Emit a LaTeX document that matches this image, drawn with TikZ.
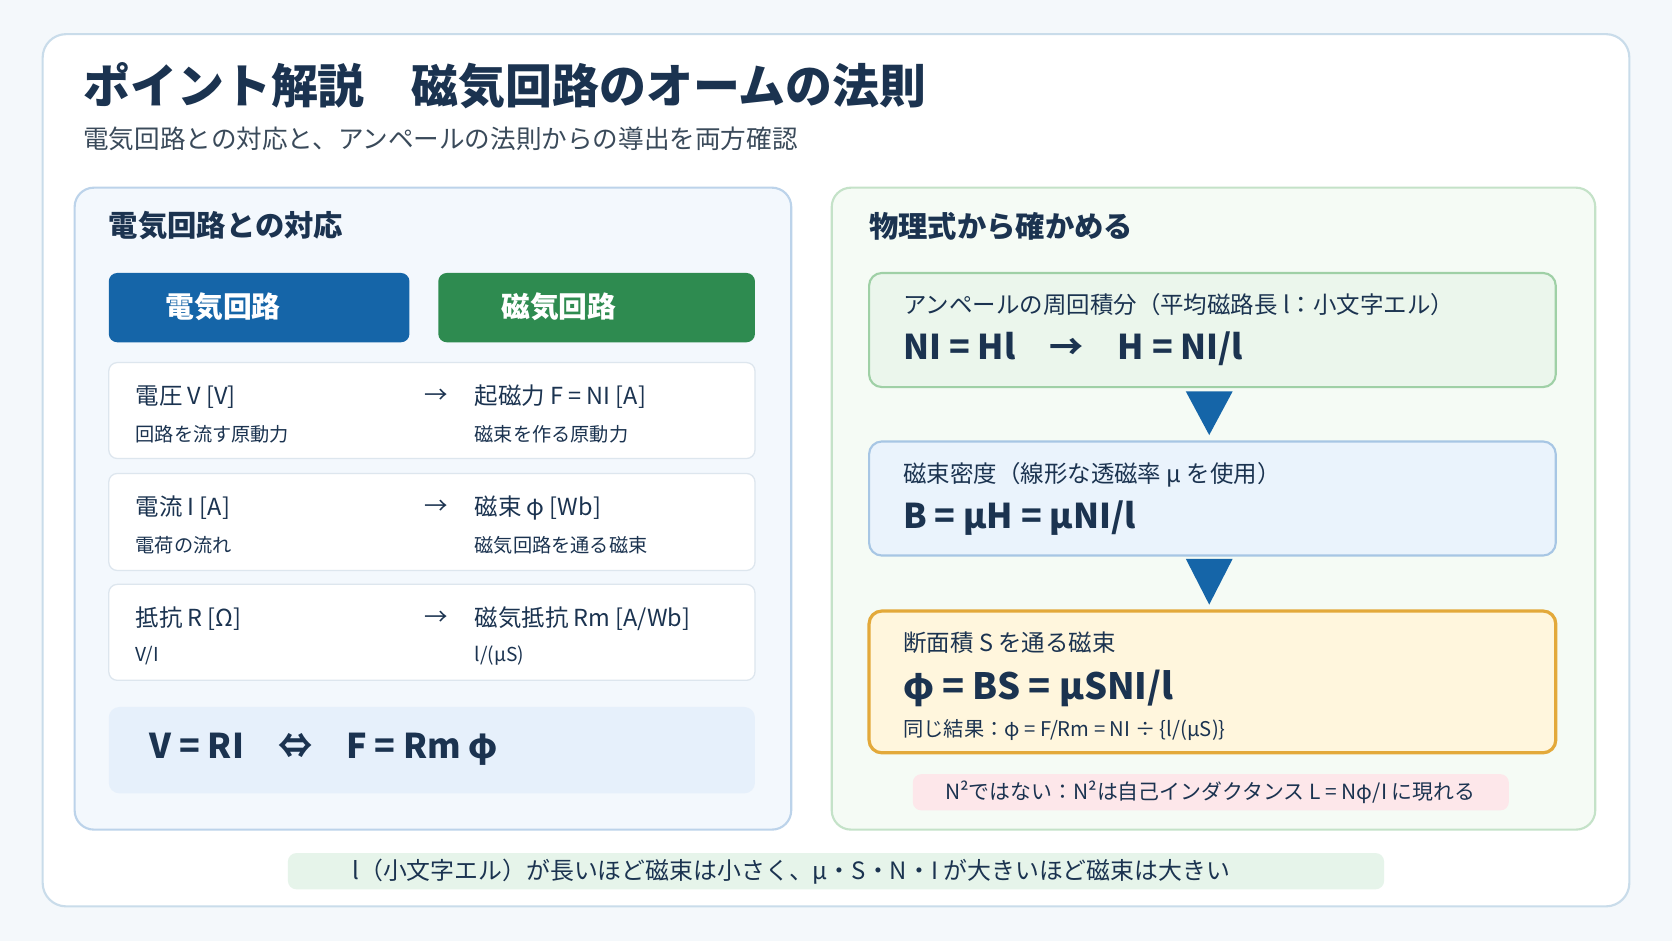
\documentclass[tikz,border=0pt]{standalone}
\usepackage{fontspec}
\setmainfont{Noto Sans CJK JP}
\begin{document}
\begin{tikzpicture}[x=1pt,y=-1pt,
 fs/.style={font=\fontsize{#1}{#1}\selectfont},
 tx/.style={anchor=west,inner sep=0,text=txt},
 row/.style={draw=rowb,fill=white,line width=1.2,rounded corners=8},
 tri/.style={fill=blue1}]
\definecolor{bg}{HTML}{F4F8FB}\definecolor{frame}{HTML}{C9DCEA}
\definecolor{txt}{HTML}{1B3350}\definecolor{sub}{HTML}{3A4A5A}
\definecolor{lp}{HTML}{F3F8FD}\definecolor{lpb}{HTML}{BCD3EA}
\definecolor{blue1}{HTML}{1565A8}\definecolor{green1}{HTML}{2E8B50}
\definecolor{rowb}{HTML}{DDE6EE}\definecolor{eqb}{HTML}{E6F0FB}
\definecolor{rp}{HTML}{F5FBF5}\definecolor{rpb}{HTML}{C4E2C8}
\definecolor{b1}{HTML}{EBF6EC}\definecolor{b1b}{HTML}{9FD0A6}
\definecolor{b2}{HTML}{EAF3FC}\definecolor{b2b}{HTML}{A7C6E4}
\definecolor{b3}{HTML}{FFF6DD}\definecolor{b3b}{HTML}{E3A93A}
\definecolor{pink}{HTML}{FDE7EA}\definecolor{bot}{HTML}{E6F4EA}
\fill[bg] (0,0) rectangle (1568,882);
\useasboundingbox (0,0) rectangle (1568,882);
\draw[frame,fill=white,line width=2,rounded corners=22] (40,32) rectangle (1528,850);
\node[tx,font=\bfseries\fontsize{44}{44}\selectfont] (title) at (78,80) {ポイント解説　磁気回路のオームの法則};
\node[tx,text=sub,fs=24] (subt) at (78,130) {電気回路との対応と、アンペールの法則からの導出を両方確認};
% left panel
\draw[lpb,fill=lp,line width=2,rounded corners=18] (70,176) rectangle (742,778);
\node[tx,font=\bfseries\fontsize{27.5}{27.5}\selectfont] (lh) at (102,212) {電気回路との対応};
\fill[blue1,rounded corners=8] (102,256) rectangle (384,321);
\node[tx,text=white,font=\bfseries\fontsize{27}{27}\selectfont] (eh) at (155,288) {電気回路};
\fill[green1,rounded corners=8] (411,256) rectangle (708,321);
\node[tx,text=white,font=\bfseries\fontsize{27}{27}\selectfont] (mh) at (470,288) {磁気回路};
\foreach \t/\b/\a/\sa/\c/\sc in {340/430/{電圧 V [V]}/{回路を流す原動力}/{起磁力 F = NI [A]}/{磁束を作る原動力},
 444/535/{電流 I [A]}/{電荷の流れ}/{磁束 φ [Wb]}/{磁気回路を通る磁束},
 548/638/{抵抗 R [Ω]}/{V/I}/{磁気抵抗 Rm [A/Wb]}/{l/(μS)}}{
 \draw[row] (102,\t) rectangle (708,\b);
 \node[tx,fs=22] at (127,\t+32) {\a};
 \node[tx,fs=18] at (127,\t+67) {\sa};
 \node[tx,fs=22] at (398,\t+32) {→};
 \node[tx,fs=22] at (445,\t+32) {\c};
 \node[tx,fs=18] at (445,\t+67) {\sc};
}
\fill[eqb,rounded corners=10] (102,663) rectangle (708,744);
\node[tx,font=\bfseries\fontsize{32}{32}\selectfont] (eq) at (140,703) {V = RI　⇔　F = Rm φ};
% right panel
\draw[rpb,fill=rp,line width=2,rounded corners=18] (780,176) rectangle (1496,778);
\node[tx,font=\bfseries\fontsize{27.5}{27.5}\selectfont] (rh) at (815,212) {物理式から確かめる};
\draw[b1b,fill=b1,line width=2,rounded corners=12] (815,256) rectangle (1459,363);
\node[tx,fs=22] at (847,286) {アンペールの周回積分（平均磁路長 l：小文字エル）};
\node[tx,font=\bfseries\fontsize{32}{32}\selectfont] at (847,327) {NI = Hl　→　H = NI/l};
\fill[tri] (1112,367) -- (1156,367) -- (1134,408) -- cycle;
\draw[b2b,fill=b2,line width=2,rounded corners=12] (815,414) rectangle (1459,521);
\node[tx,fs=22] at (847,445) {磁束密度（線形な透磁率 μ を使用）};
\node[tx,font=\bfseries\fontsize{32}{32}\selectfont] at (847,486) {B = μH = μNI/l};
\fill[tri] (1112,524) -- (1156,524) -- (1134,567) -- cycle;
\draw[b3b,fill=b3,line width=3,rounded corners=12] (815,573) rectangle (1459,706);
\node[tx,fs=22] at (847,603) {断面積 S を通る磁束};
\node[tx,font=\bfseries\fontsize{34}{34}\selectfont] at (847,646) {φ = BS = μSNI/l};
\node[tx,fs=19] at (847,685) {同じ結果：φ = F/Rm = NI ÷ \{l/(μS)\}};
\fill[pink,rounded corners=8] (856,726) rectangle (1415,760);
\node[inner sep=0,text=txt,fs=19.6] at (1135,743) {N²ではない：N²は自己インダクタンス L = Nφ/I に現れる};
\fill[bot,rounded corners=8] (270,800) rectangle (1298,834);
\node[inner sep=0,text=txt,fs=22.4] at (742,817) {l（小文字エル）が長いほど磁束は小さく、μ・S・N・I が大きいほど磁束は大きい};
\end{tikzpicture}
\end{document}
